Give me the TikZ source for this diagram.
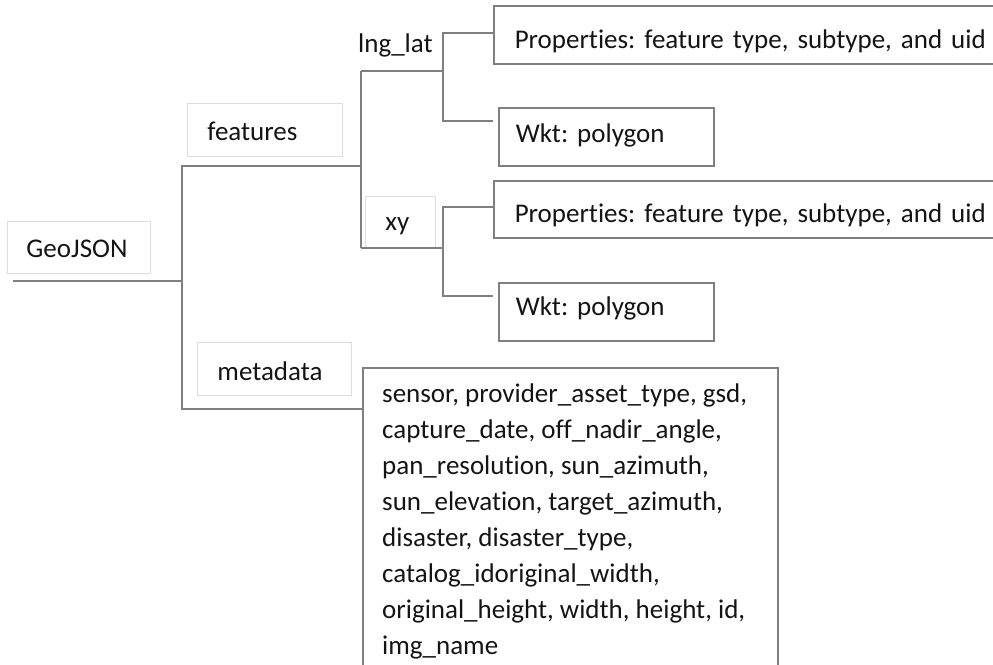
\documentclass[tikz,border=0pt]{standalone}
\usepackage{fontspec}
\setmainfont{Carlito}[Ligatures=NoCommon]
\frenchspacing
\definecolor{conngray}{HTML}{7F7F7F}
\definecolor{lightgray}{HTML}{DCDCDC}
\definecolor{txtcol}{HTML}{141414}
\tikzset{
  every node/.style={font=\fontsize{27}{36}\selectfont, text=txtcol},
  conn/.style={draw=conngray, line width=1.6pt},
  mainbox/.style={draw=conngray, line width=1.5pt, anchor=north west, inner ysep=0pt, align=left},
  lightbox/.style={draw=lightgray, line width=0.9pt, anchor=north west, inner ysep=0pt, align=left},
}
\begin{document}
\begin{tikzpicture}[x=1pt,y=-1pt]
\useasboundingbox (0,0) rectangle (993,664);
% light label boxes
\node[lightbox, inner xsep=19pt, text width=105pt, text height=36pt, text depth=16pt] (geo) at (7,221) {GeoJSON};
\node[lightbox, inner xsep=20pt, text width=115pt, text height=37pt, text depth=16pt] (feat) at (187,103) {features};
\node[lightbox, inner xsep=20pt, text width=30pt, text height=34pt, text depth=18pt] (xy) at (365,196) {xy};
\node[lightbox, inner xsep=20pt, text width=114pt, text height=38pt, text depth=15pt] (meta) at (197,342) {metadata};
\node[anchor=base west, inner sep=0pt] (lng) at (358,52) {lng\_lat};
% main boxes
\node[mainbox, inner xsep=21pt, text width=540pt, text height=43pt, text depth=15pt] (prop1) at (493,5) {Properties: feature type, subtype, and uid};
\node[mainbox, inner xsep=17pt, text width=181pt, text height=35pt, text depth=23pt] (wkt1) at (498,107) {Wkt: polygon};
\node[mainbox, inner xsep=21pt, text width=540pt, text height=42pt, text depth=15pt] (prop2) at (493,180) {Properties: feature type, subtype, and uid};
\node[mainbox, inner xsep=17pt, text width=181pt, text height=33pt, text depth=25pt] (wkt2) at (498,282) {Wkt: polygon};
\node[draw=conngray, line width=1.5pt, anchor=north west, minimum width=415pt, minimum height=320pt, inner sep=0pt] (big) at (362,367) {};
\node[anchor=north west, inner sep=0pt, align=left] (bigtext) at (382,378) {\rule{0pt}{24pt}sensor, provider\_asset\_type, gsd,\\
capture\_date, off\_nadir\_angle,\\
pan\_resolution, sun\_azimuth,\\
sun\_elevation, target\_azimuth,\\
disaster, disaster\_type,\\
catalog\_idoriginal\_width,\\
original\_height, width, height, id,\\
img\_name};
% junctions
\coordinate (r0) at (13,281);
\coordinate (j0) at (182,281);
\coordinate (j1) at (361,166);
\coordinate (j2) at (443,71);
\coordinate (j3) at (443,248);
\coordinate (f0) at (361,71);
\coordinate (f1) at (361,248);
% connectors
\draw[conn] (r0) -- (j0);
\draw[conn] (j0) |- (j1);
\draw[conn] (j0) |- ([yshift=-42pt]big.north west);
\draw[conn] (f0) -- (f1);
\draw[conn] (f0) -- (j2);
\draw[conn] (f1) -- (j3);
\draw[conn] (j2) |- ([yshift=2pt]prop1.west);
\draw[conn] (j2) |- ([xshift=-5pt,yshift=16pt]wkt1.west);
\draw[conn] (j3) |- ([yshift=2.5pt]prop2.west);
\draw[conn] (j3) |- ([xshift=-5pt,yshift=16pt]wkt2.west);
\end{tikzpicture}
\end{document}
